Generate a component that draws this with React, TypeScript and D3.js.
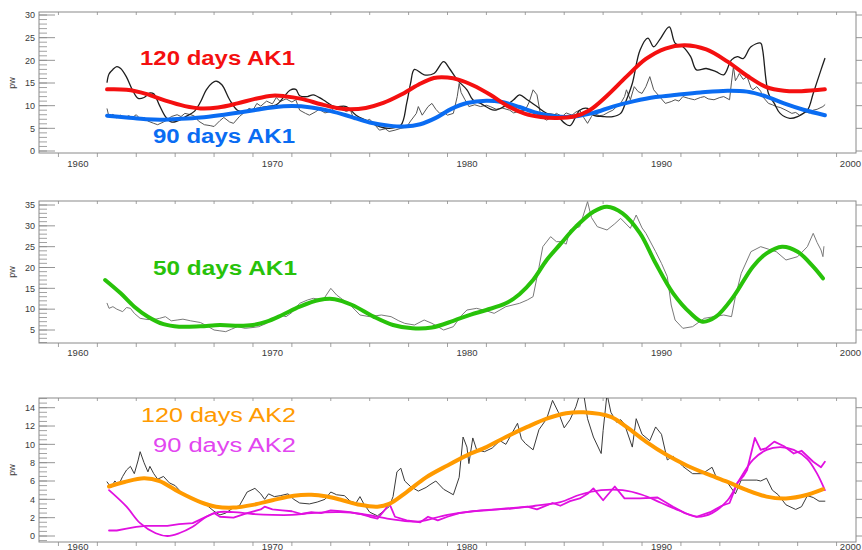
import React from 'react';
import * as d3 from 'd3';

type P = [number, number];

// ---------- tick labels ----------
const decadeLabels = [1960, 1970, 1980, 1990, 2000];
const topTicks = [0, 5, 10, 15, 20, 25, 30];
const midTicks = [5, 10, 15, 20, 25, 30, 35];
const botTicks = [0, 2, 4, 6, 8, 10, 12, 14];

// ---------- panel 1: AK1 120 / 90 days ----------
const red120AK1: P[] = [[1961.5,13.6],[1962.5,13.5],[1963.5,12.6],[1964.5,11.1],[1965.5,9.9],[1966.3,9.4],[1967.2,9.6],[1968.2,10.5],[1969.1,11.5],[1970.0,12.2],[1970.6,12.1],[1971.5,11.5],[1972.5,10.3],[1973.3,9.5],[1974.0,9.2],[1974.8,9.5],[1975.7,10.6],[1976.6,12.4],[1977.5,14.6],[1978.3,16.1],[1979.0,16.2],[1979.6,15.7],[1980.3,14.5],[1981.2,12.4],[1982.1,9.9],[1983.0,8.2],[1983.8,7.5],[1984.6,7.3],[1985.5,7.6],[1986.3,9.0],[1987.2,12.2],[1988.2,16.4],[1989.2,20.3],[1990.2,22.6],[1991.2,23.3],[1992.3,22.4],[1993.4,19.7],[1994.4,16.6],[1995.4,14.1],[1996.3,13.3],[1997.2,13.2],[1998.4,13.6]];

const blue90AK1: P[] = [[1961.5,7.8],[1962.5,7.4],[1963.5,7.0],[1964.3,6.9],[1965.3,7.1],[1966.3,7.4],[1967.3,7.9],[1968.3,8.5],[1969.2,9.1],[1970.0,9.6],[1971.0,9.9],[1972.0,9.6],[1973.0,8.8],[1974.0,7.6],[1975.0,6.3],[1976.0,5.6],[1976.8,5.4],[1977.6,5.9],[1978.4,7.3],[1979.2,9.3],[1980.0,10.6],[1981.0,11.1],[1981.8,10.8],[1982.7,9.7],[1983.6,8.4],[1984.6,7.6],[1985.5,7.6],[1986.5,8.4],[1987.5,9.8],[1988.6,11.0],[1989.7,11.9],[1990.8,12.4],[1992.0,12.9],[1993.4,13.3],[1994.4,13.1],[1995.4,12.0],[1996.3,10.5],[1997.3,9.1],[1998.4,7.9]];

const blackAK1: P[] = [[1961.5,15.2],[1961.6,17.0],[1961.8,18.0],[1962.0,18.6],[1962.2,18.2],[1962.5,16.3],[1962.8,13.5],[1963.1,11.6],[1963.4,11.8],[1963.7,12.8],[1963.9,12.6],[1964.2,10.0],[1964.5,7.6],[1964.8,6.4],[1965.1,6.6],[1965.5,7.5],[1966.0,8.8],[1966.3,10.8],[1966.6,13.5],[1966.9,15.0],[1967.1,15.4],[1967.4,14.6],[1967.8,11.3],[1968.2,9.0],[1968.6,8.7],[1969.2,9.4],[1969.7,9.8],[1970.2,10.2],[1970.6,12.0],[1970.9,13.4],[1971.2,13.6],[1971.4,12.2],[1971.8,12.0],[1972.1,12.4],[1972.6,11.3],[1973.2,9.8],[1973.8,9.8],[1974.3,7.9],[1974.8,6.8],[1975.5,5.4],[1976.0,5.0],[1976.6,5.7],[1976.9,10.5],[1977.1,14.9],[1977.3,18.0],[1977.8,16.8],[1978.3,17.1],[1978.8,19.7],[1979.1,18.2],[1979.5,15.7],[1980.0,13.5],[1980.3,11.3],[1980.7,10.5],[1981.4,9.0],[1981.9,9.8],[1982.4,11.3],[1982.7,12.4],[1983.1,11.3],[1983.6,9.8],[1984.1,8.3],[1984.6,7.9],[1985.0,6.2],[1985.3,5.6],[1985.8,9.0],[1986.2,9.4],[1986.5,7.9],[1987.0,7.6],[1987.5,7.6],[1987.9,8.3],[1988.2,11.3],[1988.5,14.9],[1988.9,22.3],[1989.3,24.9],[1989.6,23.0],[1989.9,24.5],[1990.4,27.4],[1990.7,23.8],[1991.1,23.0],[1991.5,20.8],[1991.8,17.9],[1992.3,18.2],[1992.8,17.5],[1993.2,16.8],[1993.6,20.1],[1993.9,20.8],[1994.2,20.4],[1994.6,23.0],[1995.1,23.8],[1995.2,22.3],[1995.5,12.7],[1995.8,10.5],[1996.1,8.3],[1996.6,7.2],[1997.0,7.6],[1997.5,9.0],[1997.8,12.7],[1998.2,17.9],[1998.4,20.4]];

const grayAK1: P[] = [[1961.5,9.3],[1961.6,7.5],[1961.8,8.1],[1962.0,7.3],[1962.2,7.9],[1962.4,7.2],[1962.6,7.8],[1962.8,7.4],[1963.0,8.0],[1963.2,7.1],[1963.4,7.4],[1963.6,6.6],[1963.9,6.1],[1964.1,5.8],[1964.4,6.4],[1964.6,6.9],[1964.8,7.6],[1965.1,8.0],[1965.3,7.6],[1965.5,8.3],[1965.8,8.0],[1966.0,7.7],[1966.2,6.6],[1966.5,5.8],[1966.8,5.6],[1967.0,5.4],[1967.3,6.7],[1967.5,7.4],[1967.8,6.4],[1968.0,6.1],[1968.3,7.6],[1968.5,8.3],[1968.8,9.4],[1969.0,9.0],[1969.2,10.5],[1969.4,9.9],[1969.7,11.0],[1970.0,10.4],[1970.2,11.8],[1970.4,10.9],[1970.7,11.5],[1971.0,10.8],[1971.2,11.3],[1971.4,9.0],[1971.7,8.3],[1971.9,7.9],[1972.2,8.6],[1972.4,9.2],[1972.7,8.4],[1973.0,8.7],[1973.2,9.6],[1973.5,9.3],[1973.8,8.7],[1974.0,9.1],[1974.2,6.9],[1974.5,7.3],[1974.8,6.6],[1975.0,7.0],[1975.3,5.6],[1975.5,4.6],[1975.8,4.9],[1976.0,4.3],[1976.3,4.6],[1976.6,5.0],[1976.9,5.3],[1977.1,6.6],[1977.4,8.3],[1977.5,9.8],[1977.7,7.9],[1978.0,9.8],[1978.2,10.5],[1978.4,9.2],[1978.6,8.3],[1978.8,8.6],[1979.0,7.9],[1979.3,8.3],[1979.5,12.0],[1979.6,14.9],[1979.7,12.9],[1979.9,11.3],[1980.1,9.8],[1980.4,10.2],[1980.7,9.8],[1981.0,10.1],[1981.2,9.8],[1981.5,9.2],[1981.8,9.5],[1982.2,9.0],[1982.4,8.4],[1982.7,8.8],[1983.0,9.0],[1983.2,10.8],[1983.4,13.5],[1983.6,12.4],[1983.8,7.6],[1984.1,6.8],[1984.3,7.4],[1984.6,8.3],[1984.9,7.6],[1985.1,8.4],[1985.4,7.9],[1985.6,8.6],[1985.8,9.0],[1986.0,7.4],[1986.2,6.1],[1986.4,7.6],[1986.5,8.3],[1986.8,7.8],[1987.0,7.9],[1987.3,8.6],[1987.5,9.0],[1987.7,9.8],[1987.9,10.5],[1988.1,12.0],[1988.2,13.5],[1988.4,11.3],[1988.6,14.2],[1988.8,13.1],[1989.0,12.7],[1989.2,14.2],[1989.4,16.4],[1989.6,13.5],[1989.9,12.0],[1990.2,10.5],[1990.5,10.9],[1990.7,11.3],[1990.9,11.0],[1991.1,12.0],[1991.4,11.6],[1991.7,11.3],[1992.0,11.8],[1992.2,12.0],[1992.4,11.5],[1992.7,11.3],[1993.0,11.8],[1993.2,12.0],[1993.5,11.3],[1993.6,15.2],[1993.7,18.6],[1993.8,15.5],[1993.9,16.2],[1994.0,17.1],[1994.2,15.8],[1994.4,16.4],[1994.6,14.0],[1994.7,13.5],[1994.9,14.2],[1995.1,13.2],[1995.2,12.0],[1995.5,10.5],[1995.7,10.2],[1995.9,9.8],[1996.1,9.6],[1996.4,9.0],[1996.7,8.3],[1996.9,8.5],[1997.1,7.9],[1997.4,8.6],[1997.6,8.4],[1997.8,9.0],[1998.0,9.2],[1998.3,9.8],[1998.4,10.2]];

// ---------- panel 2: AK1 50 days ----------
const green50AK1: P[] = [[1961.4,17.0],[1962.2,13.8],[1962.9,10.6],[1963.6,8.2],[1964.4,6.4],[1965.2,5.8],[1966.3,5.9],[1967.3,6.2],[1968.3,6.0],[1969.0,6.2],[1969.7,7.0],[1970.5,8.6],[1971.4,10.6],[1972.4,12.2],[1973.2,12.4],[1974.1,11.0],[1975.2,8.2],[1976.2,6.2],[1977.2,5.4],[1978.2,5.6],[1979.3,7.2],[1980.2,8.7],[1981.0,9.8],[1982.0,11.4],[1982.7,13.6],[1983.4,17.0],[1984.1,21.8],[1984.8,25.6],[1985.6,29.8],[1986.5,33.4],[1987.2,34.6],[1988.0,33.0],[1988.9,28.2],[1989.7,21.0],[1990.6,13.8],[1991.5,9.0],[1992.1,7.0],[1992.8,8.2],[1993.7,13.0],[1994.7,20.2],[1995.4,23.4],[1996.2,25.0],[1997.0,23.8],[1997.8,20.2],[1998.3,17.4]];

const gray50AK1: P[] = [[1961.5,11.4],[1961.6,10.2],[1961.8,10.6],[1962.0,10.0],[1962.3,9.4],[1962.5,10.4],[1962.7,10.2],[1962.9,9.0],[1963.2,7.8],[1963.6,7.5],[1964.0,7.6],[1964.2,7.8],[1964.5,8.2],[1964.8,7.2],[1965.1,7.4],[1965.4,7.6],[1965.8,7.2],[1966.3,6.8],[1966.7,5.8],[1967.0,5.0],[1967.3,4.8],[1967.6,4.6],[1967.9,5.2],[1968.2,5.8],[1968.6,5.4],[1969.0,5.6],[1969.3,5.8],[1969.7,6.6],[1970.1,8.0],[1970.4,8.6],[1970.7,8.2],[1971.0,9.2],[1971.4,11.4],[1971.8,12.2],[1972.1,12.6],[1972.6,12.2],[1973.0,15.0],[1973.3,13.4],[1973.7,12.0],[1974.0,11.0],[1974.5,8.6],[1975.0,8.2],[1975.6,8.6],[1976.1,8.2],[1976.5,7.2],[1976.8,6.6],[1977.3,6.2],[1977.8,7.4],[1978.2,6.6],[1978.8,5.0],[1979.3,5.8],[1979.7,8.4],[1980.0,9.8],[1980.5,10.2],[1981.0,9.6],[1981.4,9.0],[1982.0,10.6],[1982.7,11.4],[1983.1,12.2],[1983.4,13.0],[1983.7,20.0],[1983.9,25.0],[1984.3,27.4],[1984.6,26.2],[1984.9,26.2],[1985.1,25.6],[1985.3,29.0],[1985.8,29.8],[1986.2,35.8],[1986.4,32.0],[1986.7,29.8],[1987.2,29.0],[1987.6,30.5],[1987.9,31.8],[1988.4,29.4],[1988.7,32.6],[1989.0,29.5],[1989.2,28.2],[1989.7,23.8],[1990.0,21.0],[1990.3,17.8],[1990.5,11.0],[1990.7,7.4],[1991.1,5.4],[1991.6,5.8],[1992.2,7.8],[1992.7,8.2],[1993.2,8.6],[1993.6,8.2],[1993.8,13.0],[1994.1,18.6],[1994.6,23.8],[1995.1,25.0],[1995.5,24.4],[1995.9,23.8],[1996.4,21.8],[1997.0,22.6],[1997.5,25.0],[1997.8,28.2],[1998.0,26.0],[1998.2,24.2],[1998.3,22.6],[1998.35,25.0]];

// ---------- panel 3: AK2 120 / 90 days ----------
const orange120AK2: P[] = [[1961.6,5.4],[1962.4,5.9],[1963.4,6.3],[1964.2,6.0],[1965.2,4.8],[1966.3,3.7],[1967.1,3.2],[1968.0,3.1],[1969.0,3.4],[1970.0,3.9],[1971.1,4.4],[1972.0,4.5],[1972.8,4.3],[1973.6,3.9],[1974.5,3.4],[1975.4,3.2],[1976.0,3.5],[1976.9,4.8],[1977.9,6.4],[1979.0,7.7],[1980.0,8.8],[1981.0,9.7],[1982.0,10.8],[1983.1,11.9],[1984.1,12.8],[1985.1,13.4],[1986.0,13.5],[1987.4,13.0],[1988.2,11.9],[1989.2,10.3],[1990.3,8.8],[1991.3,7.7],[1992.3,6.8],[1993.4,5.9],[1994.4,5.0],[1995.4,4.3],[1996.4,4.1],[1997.5,4.5],[1998.3,5.1]];

const magentaFitAK2: P[] = [[1961.6,5.0],[1962.5,3.2],[1963.2,1.4],[1964.0,0.3],[1964.6,0.0],[1965.2,0.3],[1965.9,1.0],[1966.6,2.1],[1967.2,2.6],[1968.0,2.6],[1969.0,2.4],[1970.0,2.3],[1971.0,2.3],[1972.0,2.5],[1973.5,2.6],[1974.6,2.4],[1975.9,1.9],[1977.0,1.6],[1977.6,1.6],[1979.0,2.3],[1980.7,2.8],[1982.3,3.0],[1983.5,3.3],[1984.8,3.7],[1985.8,4.5],[1986.9,5.0],[1988.0,5.0],[1989.0,4.5],[1990.0,3.6],[1991.0,2.7],[1991.8,2.1],[1992.6,2.5],[1993.4,3.9],[1994.0,6.1],[1994.7,8.3],[1995.4,9.4],[1996.1,9.7],[1996.8,9.4],[1997.5,8.4],[1998.0,6.8],[1998.4,5.0]];

const magentaRawAK2: P[] = [[1961.6,0.6],[1962.0,0.6],[1962.5,0.8],[1963.0,1.0],[1963.5,1.1],[1964.0,1.1],[1964.6,1.1],[1965.2,1.3],[1965.9,1.4],[1966.5,2.0],[1967.0,2.5],[1967.3,2.1],[1968.0,2.0],[1968.7,2.5],[1969.4,2.9],[1969.6,3.2],[1970.0,2.9],[1970.5,2.8],[1971.0,2.7],[1971.5,2.4],[1972.0,2.6],[1972.5,2.5],[1973.0,2.8],[1973.5,2.7],[1974.0,2.6],[1974.5,2.4],[1975.0,2.1],[1975.4,1.9],[1975.8,2.9],[1976.0,3.6],[1976.3,2.1],[1976.9,1.7],[1977.6,1.5],[1978.0,2.1],[1978.5,1.7],[1979.0,2.1],[1979.6,2.5],[1980.3,2.7],[1981.0,2.8],[1982.0,3.0],[1983.1,3.2],[1983.6,2.9],[1984.4,3.6],[1984.8,3.3],[1985.3,3.8],[1985.8,4.1],[1986.2,4.6],[1986.5,5.2],[1987.0,3.9],[1987.6,5.4],[1988.1,4.1],[1988.9,4.1],[1989.8,4.2],[1990.6,3.2],[1991.2,2.5],[1991.8,2.1],[1992.5,2.6],[1993.1,3.3],[1993.5,3.6],[1993.9,5.8],[1994.2,6.5],[1994.4,7.2],[1994.8,10.7],[1995.1,9.4],[1995.4,9.6],[1995.8,10.3],[1996.3,9.8],[1996.8,9.0],[1997.2,9.3],[1997.8,8.1],[1998.2,7.5],[1998.4,8.1]];

const blackAK2: P[] = [[1961.5,5.9],[1961.7,5.3],[1961.9,6.0],[1962.1,5.6],[1962.3,6.5],[1962.5,7.2],[1962.7,7.6],[1962.9,6.8],[1963.1,8.3],[1963.2,9.2],[1963.4,8.0],[1963.6,7.0],[1963.7,7.6],[1963.9,6.8],[1964.1,6.2],[1964.4,6.5],[1964.7,5.8],[1965.0,5.5],[1965.3,4.8],[1965.6,4.4],[1965.9,4.1],[1966.2,3.8],[1966.6,3.4],[1967.0,2.7],[1967.3,2.3],[1967.6,2.5],[1968.0,3.1],[1968.3,3.3],[1968.7,4.8],[1969.1,5.2],[1969.4,4.6],[1969.6,4.0],[1969.8,4.6],[1970.1,4.3],[1970.4,4.4],[1970.8,4.6],[1971.1,4.0],[1971.4,3.6],[1971.9,3.5],[1972.3,3.7],[1972.7,4.0],[1973.0,4.8],[1973.3,4.5],[1973.7,4.4],[1974.0,3.8],[1974.3,3.6],[1974.5,4.3],[1974.7,3.5],[1975.0,2.6],[1975.4,2.2],[1975.7,2.7],[1976.0,3.2],[1976.2,4.3],[1976.4,7.0],[1976.6,7.4],[1976.8,6.0],[1977.1,5.4],[1977.5,4.9],[1977.9,5.3],[1978.1,5.6],[1978.4,6.0],[1978.8,5.1],[1979.3,4.5],[1979.6,6.4],[1979.8,10.8],[1980.0,9.7],[1980.1,7.9],[1980.3,10.7],[1980.5,9.4],[1980.9,9.2],[1981.3,9.6],[1981.7,10.4],[1982.0,10.0],[1982.6,12.3],[1982.8,10.6],[1983.0,10.1],[1983.4,9.4],[1983.7,11.6],[1984.1,12.8],[1984.4,14.8],[1984.7,13.5],[1985.0,11.8],[1985.3,12.7],[1985.6,14.1],[1985.8,15.5],[1986.0,15.5],[1986.2,12.8],[1986.5,10.8],[1986.9,9.0],[1987.0,11.5],[1987.2,15.5],[1987.4,13.5],[1987.7,12.4],[1987.9,12.7],[1988.1,12.2],[1988.5,9.7],[1988.7,12.8],[1989.0,11.1],[1989.4,10.4],[1989.7,11.9],[1990.0,11.1],[1990.3,8.3],[1990.6,8.7],[1991.1,7.6],[1991.6,6.8],[1992.1,6.8],[1992.6,7.5],[1992.8,6.5],[1993.4,5.8],[1993.8,4.6],[1994.1,6.1],[1994.9,6.1],[1995.1,6.0],[1995.4,6.3],[1995.7,5.0],[1996.0,4.5],[1996.4,3.4],[1996.9,2.9],[1997.2,3.2],[1997.5,4.4],[1997.8,4.2],[1998.1,3.8],[1998.4,3.8]];

// ---------- layout ----------
const X0 = 39;
const X1 = 856;
const x = d3.scaleLinear().domain([1958, 2000]).range([X0, X1]);
const oddYears = d3.range(1959, 2000, 2);

interface SeriesDef { data: P[]; color: string; width: number; smooth: boolean; }
interface LabelDef { text: string; x: number; y: number; len: number; color: string; bold: boolean; }
interface PanelDef {
  id: string; top: number; bottom: number;
  yDomain: [number, number]; yRange: [number, number];
  ticks: number[]; minorStep: number; minorFrom: number; minorTo: number;
  labelY: number; xLabelY: number;
  series: SeriesDef[]; labels: LabelDef[];
}

const FONT = "'Liberation Sans', Arial, Helvetica, sans-serif";

function Panel({ p }: { p: PanelDef }) {
  const y = d3.scaleLinear().domain(p.yDomain).range(p.yRange);
  const minors = d3.range(p.minorFrom, p.minorTo + 1e-6, p.minorStep).filter(v => y(v) >= p.top && y(v) <= p.bottom);
  const lineSmooth = d3.line<P>().x(d => x(d[0])).y(d => y(d[1])).curve(d3.curveCatmullRom.alpha(0.5));
  const lineRaw = d3.line<P>().x(d => x(d[0])).y(d => y(d[1]));
  const axisColor = '#8a8a8a';
  return (
    <g>
      <defs>
        <clipPath id={`clip-${p.id}`}>
          <rect x={X0} y={p.top} width={X1 - X0} height={p.bottom - p.top} />
        </clipPath>
      </defs>
      <rect x={X0} y={p.top} width={X1 - X0} height={p.bottom - p.top} fill="none" stroke={axisColor} strokeWidth={1} />
      {minors.map((v, i) => (
        <line key={`mn${i}`} x1={X0} x2={X0 + 8} y1={y(v)} y2={y(v)} stroke={axisColor} strokeWidth={0.8} />
      ))}
      {p.ticks.map(v => (
        <g key={`mj${v}`}>
          <line x1={X0} x2={X0 + 16} y1={y(v)} y2={y(v)} stroke={axisColor} strokeWidth={0.9} />
          <line x1={X1} x2={X1 + 6} y1={y(v)} y2={y(v)} stroke={axisColor} strokeWidth={0.9} />
          <text x={35} y={y(v) + 3.2} textAnchor="end" fontSize={9} fill="#3a3a3a" fontFamily={FONT}>{v}</text>
        </g>
      ))}
      {oddYears.map(yr => (
        <g key={`xt${yr}`}>
          <line x1={x(yr)} x2={x(yr)} y1={p.top} y2={p.top + 3} stroke={axisColor} strokeWidth={0.8} />
          <line x1={x(yr)} x2={x(yr)} y1={p.bottom} y2={p.bottom + 4} stroke={axisColor} strokeWidth={0.8} />
        </g>
      ))}
      {decadeLabels.map(yr => {
        const cx = x(yr);
        const atEdge = cx + 11 > 861;
        return (
          <text key={`xl${yr}`} x={atEdge ? 861 : cx} y={p.xLabelY} textAnchor={atEdge ? 'end' : 'middle'}
            fontSize={9.5} fill="#3a3a3a" fontFamily={FONT}>{yr}</text>
        );
      })}
      <text transform={`translate(15,${p.labelY}) rotate(-90)`} textAnchor="middle" fontSize={9} fill="#3a3a3a" fontFamily={FONT}>pw</text>
      <g clipPath={`url(#clip-${p.id})`}>
        {p.series.map((s, i) => (
          <path key={`s${i}`} d={(s.smooth ? lineSmooth : lineRaw)(s.data) || ''} fill="none" stroke={s.color}
            strokeWidth={s.width} strokeLinejoin="round" strokeLinecap="round" />
        ))}
      </g>
      {p.labels.map((l, i) => (
        <text key={`lb${i}`} x={l.x} y={l.y} fontSize={20} fontWeight={l.bold ? 'bold' : 'normal'} fill={l.color}
          fontFamily={FONT} textLength={l.len} lengthAdjust="spacingAndGlyphs">{l.text}</text>
      ))}
    </g>
  );
}

const panels: PanelDef[] = [
  {
    id: 'p1', top: 12, bottom: 153, yDomain: [0, 30], yRange: [151, 15],
    ticks: topTicks, minorStep: 1, minorFrom: 0, minorTo: 30, labelY: 83, xLabelY: 167,
    series: [
      { data: grayAK1, color: '#555555', width: 1, smooth: false },
      { data: blackAK1, color: '#1e1e1e', width: 1.3, smooth: true },
      { data: blue90AK1, color: '#0a6cf2', width: 4, smooth: true },
      { data: red120AK1, color: '#f41010', width: 4, smooth: true },
    ],
    labels: [
      { text: '120 days AK1', x: 140, y: 65, len: 155, color: '#f41010', bold: true },
      { text: '90 days AK1', x: 153, y: 143, len: 142, color: '#0a6cf2', bold: true },
    ],
  },
  {
    id: 'p2', top: 201, bottom: 343, yDomain: [5, 35], yRange: [330, 205],
    ticks: midTicks, minorStep: 1, minorFrom: 2, minorTo: 36, labelY: 272, xLabelY: 356,
    series: [
      { data: gray50AK1, color: '#7a7a7a', width: 1, smooth: false },
      { data: green50AK1, color: '#28c20a', width: 4, smooth: true },
    ],
    labels: [
      { text: '50 days AK1', x: 153, y: 275, len: 144, color: '#28c20a', bold: true },
    ],
  },
  {
    id: 'p3', top: 398, bottom: 542, yDomain: [0, 14], yRange: [536, 407.7],
    ticks: botTicks, minorStep: 0.5, minorFrom: -0.5, minorTo: 15, labelY: 470, xLabelY: 549.5,
    series: [
      { data: blackAK2, color: '#3a3a3a', width: 1, smooth: false },
      { data: magentaRawAK2, color: '#e010e0', width: 1.8, smooth: false },
      { data: magentaFitAK2, color: '#e010e0', width: 1.8, smooth: true },
      { data: orange120AK2, color: '#ff9a00', width: 4, smooth: true },
    ],
    labels: [
      { text: '120 days AK2', x: 141, y: 422, len: 155, color: '#ff9a00', bold: false },
      { text: '90 days AK2', x: 153, y: 452, len: 143, color: '#e246f0', bold: false },
    ],
  },
];

export default function App() {
  return (
    <svg width={862} height={550} style={{ position: 'absolute', left: 0, top: 0, background: '#fff' }}>
      <rect x={0} y={0} width={862} height={550} fill="#fff" />
      {panels.map(p => <Panel key={p.id} p={p} />)}
    </svg>
  );
}
